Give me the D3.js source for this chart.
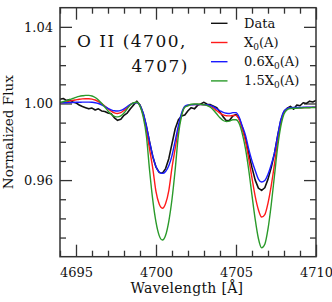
<!DOCTYPE html>
<html>
<head>
<meta charset="utf-8">
<script src="https://cdn.jsdelivr.net/npm/d3@7"></script>
<style>
  html, body { margin: 0; padding: 0; background: #fff; }
  svg { display: block; }
  text { font-family: "DejaVu Serif", "Liberation Serif", serif; fill: #111; }
</style>
</head>
<body>
<div id="chart"></div>
<script>
// wavelength grid (Angstrom), 0.2 A steps
const wavelength = [
  4694.0, 4694.2, 4694.4, 4694.6, 4694.8, 4695.0, 4695.2, 4695.4, 4695.6, 4695.8,
  4696.0, 4696.2, 4696.4, 4696.6, 4696.8, 4697.0, 4697.2, 4697.4, 4697.6, 4697.8,
  4698.0, 4698.2, 4698.4, 4698.6, 4698.8, 4699.0, 4699.2, 4699.4, 4699.6, 4699.8,
  4700.0, 4700.2, 4700.4, 4700.6, 4700.8, 4701.0, 4701.2, 4701.4, 4701.6, 4701.8,
  4702.0, 4702.2, 4702.4, 4702.6, 4702.8, 4703.0, 4703.2, 4703.4, 4703.6, 4703.8,
  4704.0, 4704.2, 4704.4, 4704.6, 4704.8, 4705.0, 4705.2, 4705.4, 4705.6, 4705.8,
  4706.0, 4706.2, 4706.4, 4706.6, 4706.8, 4707.0, 4707.2, 4707.4, 4707.6, 4707.8,
  4708.0, 4708.2, 4708.4, 4708.6, 4708.8, 4709.0, 4709.2, 4709.4, 4709.6, 4709.8,
  4710.0
];

// observed spectrum
const fluxData = [
  1.0022, 1.0026, 1.0016, 1.0020, 1.0008, 1.0003, 0.9992, 0.9984, 0.9978, 0.9972,
  0.9976, 0.9966, 0.9972, 0.9961, 0.9958, 0.9950, 0.9946, 0.9925, 0.9912, 0.9918,
  0.9938, 0.9950, 0.9972, 0.9992, 1.0012, 0.9992, 0.9948, 0.9882, 0.9798, 0.9722,
  0.9668, 0.9640, 0.9636, 0.9660, 0.9712, 0.9790, 0.9868, 0.9915, 0.9935, 0.9940,
  0.9962, 0.9978, 0.9972, 0.9990, 0.9998, 1.0006, 0.9996, 0.9994, 0.9986, 0.9978,
  0.9955, 0.9930, 0.9910, 0.9912, 0.9935, 0.9942, 0.9922, 0.9875, 0.9815, 0.9738,
  0.9665, 0.9600, 0.9558, 0.9546, 0.9560, 0.9605, 0.9665, 0.9738, 0.9830, 0.9910,
  0.9958, 0.9975, 0.9985, 0.9970, 0.9992, 0.9988, 1.0004, 1.0000, 1.0012, 1.0008,
  1.0016
];

// model X0(A)
const fluxX0 = [
  1.0003, 1.0005, 1.0008, 1.0012, 1.0016, 1.0019, 1.0022, 1.0024, 1.0025, 1.0025,
  1.0023, 1.0018, 1.0010, 0.9999, 0.9986, 0.9972, 0.9960, 0.9951, 0.9948, 0.9952,
  0.9963, 0.9979, 0.9994, 1.0003, 1.0005, 0.9988, 0.9940, 0.9860, 0.9760, 0.9660,
  0.9540, 0.9475, 0.9453, 0.9478, 0.9545, 0.9665, 0.9765, 0.9865, 0.9942, 0.9983,
  0.9990, 0.9994, 0.9995, 0.9995, 0.9994, 0.9993, 0.9991, 0.9986, 0.9975, 0.9962,
  0.9950, 0.9940, 0.9936, 0.9935, 0.9937, 0.9938, 0.9915, 0.9865, 0.9800, 0.9710,
  0.9610, 0.9515, 0.9445, 0.9407, 0.9420, 0.9480, 0.9570, 0.9680, 0.9800, 0.9900,
  0.9955, 0.9972, 0.9976, 0.9977, 0.9977, 0.9978, 0.9978, 0.9979, 0.9979, 0.9980,
  0.9980
];

// model 0.6 X0(A)
const flux06X0 = [
  1.0003, 1.0004, 1.0004, 1.0005, 1.0005, 1.0006, 1.0006, 1.0007, 1.0007, 1.0007,
  1.0006, 1.0004, 1.0000, 0.9993, 0.9984, 0.9975, 0.9967, 0.9962, 0.9961, 0.9964,
  0.9972, 0.9984, 0.9995, 1.0002, 1.0004, 0.9990, 0.9950, 0.9880, 0.9800, 0.9725,
  0.9670, 0.9642, 0.9635, 0.9645, 0.9675, 0.9728, 0.9805, 0.9885, 0.9950, 0.9985,
  0.9992, 0.9993, 0.9994, 0.9994, 0.9994, 0.9994, 0.9993, 0.9990, 0.9982, 0.9972,
  0.9962, 0.9953, 0.9949, 0.9948, 0.9952, 0.9952, 0.9928, 0.9880, 0.9832, 0.9760,
  0.9700, 0.9650, 0.9605, 0.9590, 0.9598, 0.9630, 0.9680, 0.9740, 0.9830, 0.9915,
  0.9960, 0.9974, 0.9978, 0.9979, 0.9979, 0.9979, 0.9980, 0.9980, 0.9980, 0.9981,
  0.9981
];

// model 1.5 X0(A)
const flux15X0 = [
  1.0005, 1.0009, 1.0014, 1.0020, 1.0026, 1.0032, 1.0037, 1.0040, 1.0042, 1.0042,
  1.0039, 1.0031, 1.0018, 1.0001, 0.9981, 0.9961, 0.9944, 0.9933, 0.9930, 0.9935,
  0.9950, 0.9972, 0.9992, 1.0004, 1.0006, 0.9985, 0.9930, 0.9830, 0.9650, 0.9495,
  0.9380, 0.9310, 0.9287, 0.9312, 0.9385, 0.9500, 0.9655, 0.9835, 0.9935, 0.9980,
  0.9988, 0.9996, 0.9997, 0.9997, 0.9995, 0.9993, 0.9989, 0.9980, 0.9965, 0.9945,
  0.9925, 0.9911, 0.9906, 0.9908, 0.9915, 0.9915, 0.9895, 0.9840, 0.9760, 0.9650,
  0.9520, 0.9395, 0.9295, 0.9246, 0.9265, 0.9345, 0.9470, 0.9620, 0.9770, 0.9880,
  0.9945, 0.9968, 0.9974, 0.9975, 0.9975, 0.9976, 0.9977, 0.9978, 0.9978, 0.9979,
  0.9979
];

const xMajorTicks = [4695, 4700, 4705, 4710];
const xMinorTicks = [4694, 4696, 4697, 4698, 4699, 4701, 4702, 4703, 4704, 4706, 4707, 4708, 4709];
const yMajorTicks = [0.96, 1.00, 1.04];
const yMinorTicks = [0.93, 0.94, 0.95, 0.97, 0.98, 0.99, 1.01, 1.02, 1.03];

const seriesNames = ["Data", "X0(A)", "0.6X0(A)", "1.5X0(A)"];
const seriesColors = ["#111111", "#ff1a1a", "#1a1aff", "#2a9a2a"];

const W = 332, H = 302;
const margin = { top: 7.7, right: 16, bottom: 45.3, left: 60 };
const iw = W - margin.left - margin.right;
const ih = H - margin.top - margin.bottom;

const svg = d3.select("#chart").append("svg")
    .attr("width", W)
    .attr("height", H);

const g = svg.append("g")
    .attr("transform", `translate(${margin.left},${margin.top})`);

const x = d3.scaleLinear().domain([4694, 4710]).range([0, iw]);
const y = d3.scaleLinear().domain([0.92, 1.05]).range([ih, 0]);

// axes, ticks pointing inward on all four sides
function styleAxis(sel) {
    sel.select(".domain").remove();
    sel.selectAll(".tick line").attr("stroke", "#333").attr("stroke-width", 1.3);
    sel.selectAll(".tick text").style("font-size", "13px").attr("fill", "#111");
}

g.append("g").attr("transform", `translate(0,${ih})`)
    .call(d3.axisBottom(x).tickValues(xMajorTicks).tickSize(-12).tickPadding(11.5).tickFormat(d3.format("d")))
    .call(styleAxis);
g.append("g").attr("transform", `translate(0,${ih})`)
    .call(d3.axisBottom(x).tickValues(xMinorTicks).tickSize(-6).tickFormat(""))
    .call(styleAxis);
g.append("g")
    .call(d3.axisTop(x).tickValues(xMajorTicks).tickSize(-12).tickFormat(""))
    .call(styleAxis);
g.append("g")
    .call(d3.axisTop(x).tickValues(xMinorTicks).tickSize(-6).tickFormat(""))
    .call(styleAxis);

g.append("g")
    .call(d3.axisLeft(y).tickValues(yMajorTicks).tickSize(-12).tickPadding(7).tickFormat(d3.format(".2f")))
    .call(styleAxis);
g.append("g")
    .call(d3.axisLeft(y).tickValues(yMinorTicks).tickSize(-6).tickFormat(""))
    .call(styleAxis);
g.append("g").attr("transform", `translate(${iw},0)`)
    .call(d3.axisRight(y).tickValues(yMajorTicks).tickSize(-12).tickFormat(""))
    .call(styleAxis);
g.append("g").attr("transform", `translate(${iw},0)`)
    .call(d3.axisRight(y).tickValues(yMinorTicks).tickSize(-6).tickFormat(""))
    .call(styleAxis);

// curves
g.append("clipPath").attr("id", "clip")
    .append("rect").attr("width", iw).attr("height", ih);

const series = [fluxData, fluxX0, flux06X0, flux15X0];
const plot = g.append("g").attr("clip-path", "url(#clip)");

series.forEach((vals, i) => {
    const line = d3.line()
        .x((d, j) => x(wavelength[j]))
        .y(d => y(d))
        .curve(i === 0 ? d3.curveLinear : d3.curveMonotoneX);
    plot.append("path")
        .datum(vals)
        .attr("fill", "none")
        .attr("stroke", seriesColors[i])
        .attr("stroke-width", i === 0 ? 1.6 : 1.4)
        .attr("stroke-linejoin", "round")
        .attr("d", line);
});

// frame
g.append("rect")
    .attr("width", iw).attr("height", ih)
    .attr("fill", "none")
    .attr("stroke", "#333")
    .attr("stroke-width", 1.5);

// annotation
g.append("text")
    .attr("x", 17).attr("y", 39.5)
    .style("font-size", "17px").style("letter-spacing", "1.5px")
    .text("O II (4700,");
g.append("text")
    .attr("x", 129).attr("y", 64.5)
    .attr("text-anchor", "end")
    .style("font-size", "17px").style("letter-spacing", "1.5px")
    .text("4707)");

// legend
const legend = g.append("g").attr("transform", "translate(151,15.6)");
seriesNames.forEach((name, i) => {
    const row = legend.append("g").attr("transform", `translate(0,${i * 19.2})`);
    row.append("line")
        .attr("x1", 0).attr("x2", 16.5)
        .attr("stroke", seriesColors[i])
        .attr("stroke-width", 1.4);
    const t = row.append("text")
        .attr("x", 33).attr("dy", "0.35em")
        .style("font-size", "13px");
    const k = name.indexOf("X0");
    if (k < 0) {
        t.text(name);
    } else {
        t.append("tspan").text(name.slice(0, k + 1));
        t.append("tspan").attr("dy", 3).style("font-size", "9px").text("0");
        t.append("tspan").attr("dy", -3).text(name.slice(k + 2));
    }
});

// axis titles
svg.append("text")
    .attr("x", margin.left + iw / 2 - 1).attr("y", 293)
    .attr("text-anchor", "middle")
    .style("font-size", "14px").style("letter-spacing", "0.3px")
    .text("Wavelength [Å]");

svg.append("text")
    .attr("transform", `translate(13,${margin.top + ih / 2}) rotate(-90)`)
    .attr("text-anchor", "middle")
    .style("font-size", "13.5px")
    .text("Normalized Flux");
</script>
</body>
</html>
